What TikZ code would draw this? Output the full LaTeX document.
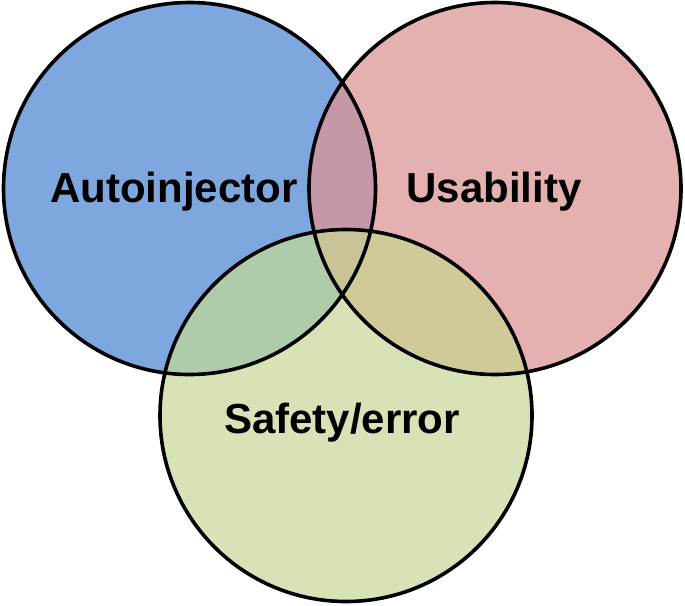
\documentclass[tikz,border=0pt]{standalone}
\usepackage{fontspec}
\setmainfont{Liberation Sans}
\definecolor{cblue}{RGB}{126,167,224}
\definecolor{cpink}{RGB}{228,176,176}
\definecolor{cgreen}{RGB}{215,227,183}
\definecolor{cbp}{RGB}{197,152,167}
\definecolor{cbg}{RGB}{176,203,172}
\definecolor{cpg}{RGB}{208,202,153}
\definecolor{call}{RGB}{200,196,152}
\tikzset{
  ring/.style={draw=black, line width=3.6pt},
  lbl/.style={font=\bfseries\fontsize{42}{48}\selectfont, text=black, inner sep=0pt}
}
\begin{document}
\begin{tikzpicture}[x=1pt,y=-1pt]
\useasboundingbox (0,0) rectangle (685,605);
\coordinate (A) at (189.5,188.5);
\coordinate (B) at (495,188.5);
\coordinate (C) at (346,415.5);
\def\R{186}
% base fills
\fill[cblue] (A) circle (\R);
\fill[cpink] (B) circle (\R);
\fill[cgreen] (C) circle (\R);
% pairwise overlaps
\begin{scope}
  \clip (A) circle (\R);
  \fill[cbp] (B) circle (\R);
  \fill[cbg] (C) circle (\R);
\end{scope}
\begin{scope}
  \clip (B) circle (\R);
  \fill[cpg] (C) circle (\R);
\end{scope}
\begin{scope}
  \clip (A) circle (\R);
  \clip (B) circle (\R);
  \fill[call] (C) circle (\R);
\end{scope}
% outlines
\draw[ring] (A) circle (\R);
\draw[ring] (B) circle (\R);
\draw[ring] (C) circle (\R);
% labels
\node[lbl] (la) at (174,192) {Autoinjector};
\node[lbl] (lu) at (494,192) {Usability};
\node[lbl] (ls) at (342,423) {Safety/error};
\end{tikzpicture}
\end{document}
